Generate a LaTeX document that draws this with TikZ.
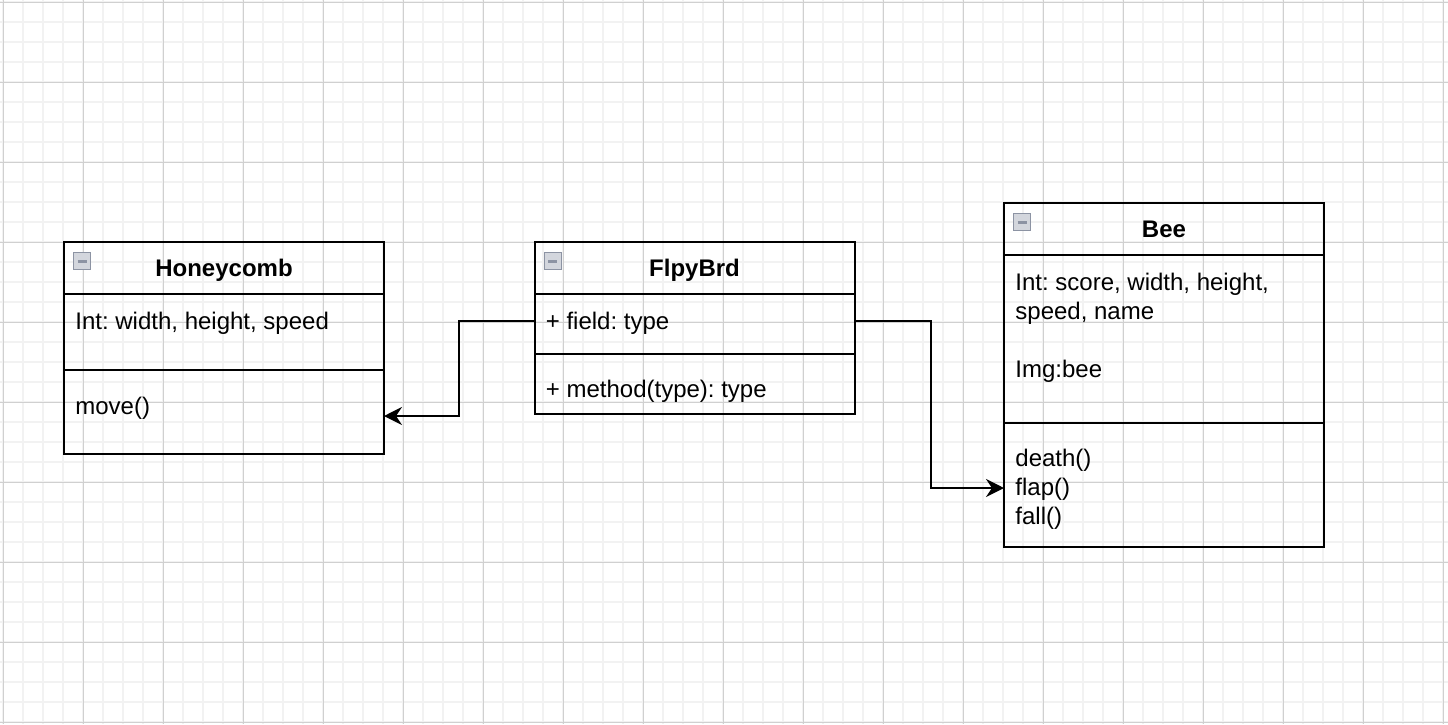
\documentclass[tikz,border=0pt]{standalone}
\usepackage{fontspec}
\setmainfont{Liberation Sans}
\usetikzlibrary{arrows.meta,positioning}
\definecolor{gridminor}{HTML}{F2F2F2}
\definecolor{gridmajor}{HTML}{D0D0D0}
\definecolor{iconfill}{HTML}{D3D6DD}
\definecolor{iconborder}{HTML}{8C93A3}
\frenchspacing
\begin{document}
\begin{tikzpicture}[
x=0.5pt, y=-0.5pt,
font=\fontsize{12pt}{14.5pt}\selectfont,
minorline/.style={gridminor, line width=1pt},
majorline/.style={gridmajor, line width=0.5pt},
header/.style={rectangle, draw, line width=1pt, outer sep=0pt, minimum width=160pt, minimum height=26pt, anchor=north west},
section/.style={rectangle, draw, line width=1pt, outer sep=0pt, minimum width=160pt},
title/.style={anchor=base, inner sep=0pt, font=\fontsize{12pt}{14.5pt}\selectfont\bfseries},
member/.style={anchor=base west, inner sep=0pt, align=left},
icon/.style={rectangle, draw=iconborder, fill=iconfill, line width=0.6pt, minimum size=8.5pt, inner sep=0pt, anchor=north west,
  path picture={\draw[line width=1.6pt] ([xshift=2pt]path picture bounding box.west) -- ([xshift=-2pt]path picture bounding box.east);}},
link/.style={->, >={Stealth[length=9pt, width=9pt, inset=3pt]}, line width=1pt}
]
\useasboundingbox (0,0) rectangle (1448,724);
\foreach \gx in {3,23,...,1443} \draw[minorline] (\gx,0) -- (\gx,724);
\foreach \gy in {2,22,...,722} \draw[minorline] (0,\gy) -- (1448,\gy);
\foreach \gx in {3,83,...,1443} \draw[majorline] (\gx,0) -- (\gx,724);
\foreach \gy in {2,82,...,722} \draw[majorline] (0,\gy) -- (1448,\gy);

\node (hc) [header] at (64,242) {};
\node (hcattr) [section, minimum height=38pt, below=0pt of hc] {};
\node (hcmeth) [section, minimum height=42pt, below=0pt of hcattr] {};
\node (hcicon) [icon] at ([xshift=4.5pt, yshift=-5pt]hc.north west) {};
\node [title] at ([yshift=-17pt]hc.north) {Honeycomb};
\node [member] at ([xshift=5.5pt, yshift=-17.5pt]hcattr.north west) {Int: width, height, speed};
\node [member] at ([xshift=5.5pt, yshift=-22pt]hcmeth.north west) {move()};

\node (fb) [header] at (534.5,242) {};
\node (fbattr) [section, minimum height=30pt, below=0pt of fb] {};
\node (fbmeth) [section, minimum height=30pt, below=0pt of fbattr] {};
\node (fbicon) [icon] at ([xshift=4.5pt, yshift=-5pt]fb.north west) {};
\node [title] at ([yshift=-17pt]fb.north) {FlpyBrd};
\node [member] at ([xshift=5.5pt, yshift=-17.5pt]fbattr.north west) {+ field: type};
\node [member] at ([xshift=5.5pt, yshift=-21.5pt]fbmeth.north west) {+ method(type): type};

\node (bee) [header] at (1004,203) {};
\node (beeattr) [section, minimum height=84pt, below=0pt of bee] {};
\node (beemeth) [section, minimum height=62pt, below=0pt of beeattr] {};
\node (beeicon) [icon] at ([xshift=4.5pt, yshift=-5pt]bee.north west) {};
\node [title] at ([yshift=-17pt]bee.north) {Bee};
\node [member] at ([xshift=5.5pt, yshift=-61pt]beeattr.north west) {Int: score, width, height,\\speed, name\\[14.5pt]Img:bee};
\node [member] at ([xshift=5.5pt, yshift=-50.5pt]beemeth.north west) {death()\\flap()\\fall()};

\draw [link] ([yshift=1.5pt]fbattr.west) -- ++(-76,0) |- ([yshift=-2pt]hcmeth.east);
\draw [link] ([yshift=1.5pt]fbattr.east) -- ++(76,0) |- ([yshift=-1.5pt]beemeth.west);
\end{tikzpicture}
\end{document}
